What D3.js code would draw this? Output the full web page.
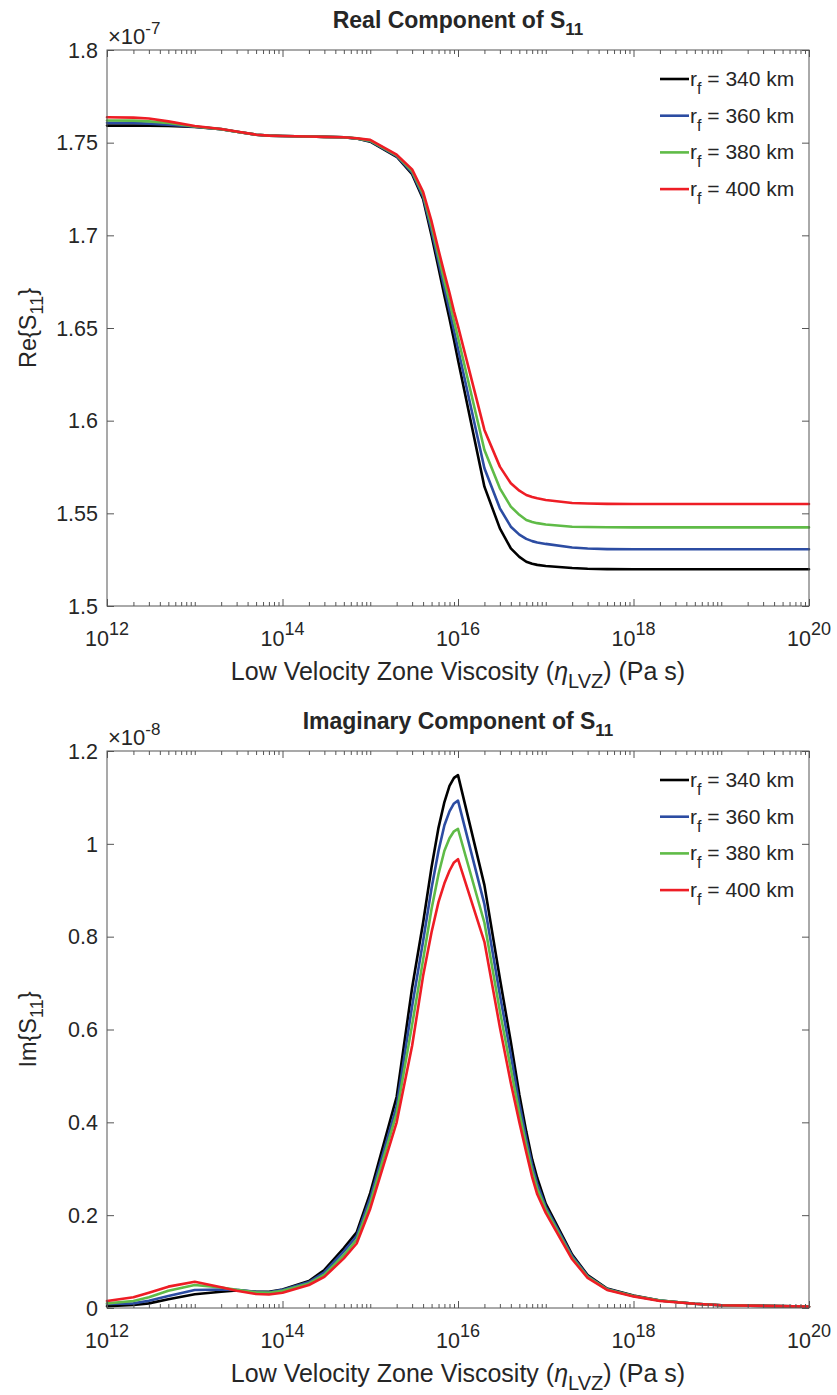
<!DOCTYPE html>
<html><head><meta charset="utf-8">
<script src="https://cdn.jsdelivr.net/npm/d3@7"></script>
<style>
body{margin:0;background:#fff}
text{font-family:"Liberation Sans",Arial,Helvetica,sans-serif;fill:#262626}
</style>
</head><body>
<svg id="c" width="837" height="1395"></svg>
<script>
// Low velocity zone viscosity samples (Pa s)
const eta = [1e12,2e12,3e12,5e12,1e13,2e13,3e13,5e13,7e13,1e14,2e14,3e14,5e14,7e14,
  1e15,2e15,3e15,4e15,5e15,6e15,7e15,8e15,9e15,1e16,2e16,3e16,4e16,5e16,6e16,7e16,8e16,
  1e17,2e17,3e17,5e17,1e18,2e18,5e18,1e19,1e20];

// Re{S11} (x 1e-7)
const reS11_340 = [1.7592,1.7592,1.7592,1.7590,1.7585,1.7572,1.7559,1.7543,1.7538,1.7536,1.7533,1.7531,1.7529,1.7522,
  1.7505,1.7424,1.7330,1.7196,1.6998,1.6824,1.6674,1.6550,1.6435,1.6327,1.5644,1.5419,1.5311,1.5265,1.5239,1.5228,1.5222,
  1.5216,1.5205,1.5201,1.5199,1.5198,1.5198,1.5198,1.5198,1.5198];
const reS11_360 = [1.7607,1.7606,1.7603,1.7597,1.7586,1.7573,1.7559,1.7543,1.7538,1.7536,1.7533,1.7531,1.7529,1.7522,
  1.7508,1.7428,1.7338,1.7209,1.7024,1.6856,1.6714,1.6596,1.6487,1.6388,1.5743,1.5527,1.5428,1.5385,1.5362,1.5350,1.5343,
  1.5335,1.5316,1.5310,1.5307,1.5306,1.5306,1.5306,1.5306,1.5306];
const reS11_380 = [1.7620,1.7619,1.7615,1.7606,1.7587,1.7573,1.7559,1.7543,1.7538,1.7536,1.7533,1.7531,1.7529,1.7523,
  1.7511,1.7431,1.7346,1.7222,1.7050,1.6888,1.6754,1.6643,1.6538,1.6449,1.5842,1.5635,1.5536,1.5492,1.5464,1.5453,1.5447,
  1.5440,1.5428,1.5426,1.5425,1.5424,1.5424,1.5424,1.5424,1.5424];
const reS11_400 = [1.7637,1.7635,1.7630,1.7615,1.7590,1.7574,1.7560,1.7543,1.7538,1.7536,1.7533,1.7531,1.7529,1.7524,
  1.7515,1.7435,1.7356,1.7235,1.7075,1.6920,1.6795,1.6690,1.6590,1.6510,1.5950,1.5752,1.5662,1.5622,1.5599,1.5588,1.5581,
  1.5572,1.5556,1.5553,1.5551,1.5550,1.5550,1.5550,1.5550,1.5550];

// Im{S11} (x 1e-8)
const imS11_340 = [0.004,0.0065,0.010,0.019,0.0295,0.035,0.038,0.035,0.035,0.040,0.058,0.082,0.129,0.163,
  0.248,0.455,0.69,0.83,0.95,1.035,1.09,1.125,1.142,1.148,0.911,0.71,0.573,0.46,0.38,0.32,0.28,
  0.225,0.115,0.071,0.042,0.027,0.016,0.009,0.006,0.003];
const imS11_360 = [0.0086,0.010,0.0157,0.026,0.0388,0.040,0.039,0.035,0.034,0.039,0.056,0.077,0.122,0.155,
  0.237,0.435,0.65,0.79,0.905,0.985,1.04,1.07,1.087,1.093,0.870,0.675,0.545,0.44,0.365,0.308,0.268,
  0.218,0.112,0.069,0.041,0.026,0.016,0.009,0.006,0.003];
const imS11_380 = [0.010,0.015,0.023,0.037,0.0495,0.044,0.039,0.034,0.033,0.037,0.053,0.072,0.114,0.147,
  0.226,0.42,0.61,0.75,0.86,0.935,0.985,1.012,1.027,1.032,0.830,0.64,0.515,0.42,0.35,0.295,0.257,
  0.212,0.108,0.067,0.040,0.026,0.016,0.009,0.006,0.003];
const imS11_400 = [0.015,0.023,0.033,0.046,0.0567,0.0445,0.037,0.030,0.029,0.033,0.0495,0.067,0.107,0.139,
  0.214,0.40,0.565,0.715,0.81,0.875,0.915,0.942,0.960,0.967,0.789,0.605,0.485,0.40,0.335,0.282,0.245,
  0.205,0.105,0.065,0.039,0.025,0.015,0.009,0.006,0.003];

const radii = ["340","360","380","400"];
const colors = ["#000000","#2c4ca2","#5fbb47","#ee1d25"];
const xDecadeLabels = [12,14,16,18,20];
const reTicks = [1.5,1.55,1.6,1.65,1.7,1.75,1.8];
const imTicks = [0,0.2,0.4,0.6,0.8,1,1.2];

const svg = d3.select("#c");
const X0 = 107, X1 = 809;
const x = d3.scaleLog().domain([1e12,1e20]).range([X0,X1]);
const majors = xDecadeLabels.map(e => Math.pow(10,e));
const minors = [];
for (let k = 12; k < 20; k++) for (let m = 1; m <= 9; m++) {
  if (m === 1 && k % 2 === 0) continue;
  minors.push(m * Math.pow(10,k));
}
const axisColor = "#555";

function panel(o) {
  const g = svg.append("g");
  const y = d3.scaleLinear().domain(o.domain).range([o.bottom, o.top]);
  const line = d3.line().x((d,i) => x(eta[i])).y(d => y(d));
  o.series.forEach((s,k) => {
    g.append("path").attr("d", line(s)).attr("fill","none")
      .attr("stroke", colors[k]).attr("stroke-width", 2.6)
      .attr("stroke-linejoin","round").attr("stroke-linecap","round");
  });
  // axes
  const axes = [
    [d3.axisBottom(x).tickValues(majors).tickSize(-7), `translate(0,${o.bottom})`],
    [d3.axisBottom(x).tickValues(minors).tickSize(-4), `translate(0,${o.bottom})`],
    [d3.axisTop(x).tickValues(majors).tickSize(-7), `translate(0,${o.top})`],
    [d3.axisTop(x).tickValues(minors).tickSize(-4), `translate(0,${o.top})`],
    [d3.axisLeft(y).tickValues(o.ticks).tickSize(-7), `translate(${X0},0)`],
    [d3.axisRight(y).tickValues(o.ticks).tickSize(-7), `translate(${X1},0)`]
  ];
  axes.forEach(([ax,tr]) => {
    const a = g.append("g").attr("transform", tr).call(ax.tickFormat(""));
    a.select(".domain").remove();
    a.selectAll("line").attr("stroke", axisColor).attr("stroke-width", 1);
  });
  g.append("rect").attr("x",X0).attr("y",o.top).attr("width",X1-X0).attr("height",o.bottom-o.top)
    .attr("fill","none").attr("stroke",axisColor).attr("stroke-width",1);

  // y tick labels
  o.ticks.forEach(t => {
    g.append("text").attr("x", X0-9).attr("y", y(t)).attr("dy","0.36em")
      .attr("text-anchor","end").attr("font-size",21.5).text(String(t));
  });
  // x tick labels
  xDecadeLabels.forEach(e => {
    const t = g.append("text").attr("x", x(Math.pow(10,e))).attr("y", o.bottom+40)
      .attr("text-anchor","middle").attr("font-size",21.5);
    t.append("tspan").text("10");
    t.append("tspan").attr("dy",-11).attr("font-size",18).text(String(e));
  });
  // exponent
  const ex = g.append("text").attr("x", X0+1).attr("y", o.top-6).attr("font-size",22);
  ex.append("tspan").text("\u00d710");
  ex.append("tspan").attr("dy",-10).attr("font-size",17).text(o.exp);

  // title
  const ti = g.append("text").attr("x",(X0+X1)/2).attr("y",o.top-22).attr("text-anchor","middle")
    .attr("font-size",23).attr("font-weight","bold");
  ti.append("tspan").text(o.title + " S");
  ti.append("tspan").attr("dy",7).attr("font-size",17).text("11");

  // x label
  const xl = g.append("text").attr("x",(X0+X1)/2).attr("y",o.bottom+74).attr("text-anchor","middle").attr("font-size",25);
  xl.append("tspan").text("Low Velocity Zone Viscosity (");
  xl.append("tspan").attr("font-style","italic").text("\u03b7");
  xl.append("tspan").attr("dy",8).attr("font-size",20).text("LVZ");
  xl.append("tspan").attr("dy",-8).text(") (Pa s)");

  // y label
  const cy = (o.top+o.bottom)/2;
  const yl = g.append("text").attr("transform",`translate(36,${cy}) rotate(-90)`).attr("text-anchor","middle").attr("font-size",23.5);
  yl.append("tspan").text(o.ylab + "{S");
  yl.append("tspan").attr("dy",7).attr("font-size",18).text("11");
  yl.append("tspan").attr("dy",-7).text("}");

  // legend
  radii.forEach((r,k) => {
    const ly = o.top + 29 + k*36.7;
    g.append("line").attr("x1",660).attr("x2",689).attr("y1",ly).attr("y2",ly)
      .attr("stroke",colors[k]).attr("stroke-width",2.6);
    const t = g.append("text").attr("x",690).attr("y",ly+7).attr("font-size",21);
    t.append("tspan").text("r");
    t.append("tspan").attr("dy",8).attr("font-size",16).text("f");
    t.append("tspan").attr("dy",-8).text(" = " + r + " km");
  });
}

panel({top:50, bottom:606, domain:[1.5,1.8], ticks:reTicks, exp:"-7",
  title:"Real Component of", ylab:"Re",
  series:[reS11_340,reS11_360,reS11_380,reS11_400]});
panel({top:751, bottom:1308, domain:[0,1.2], ticks:imTicks, exp:"-8",
  title:"Imaginary Component of", ylab:"Im",
  series:[imS11_340,imS11_360,imS11_380,imS11_400]});
</script>
</body></html>
